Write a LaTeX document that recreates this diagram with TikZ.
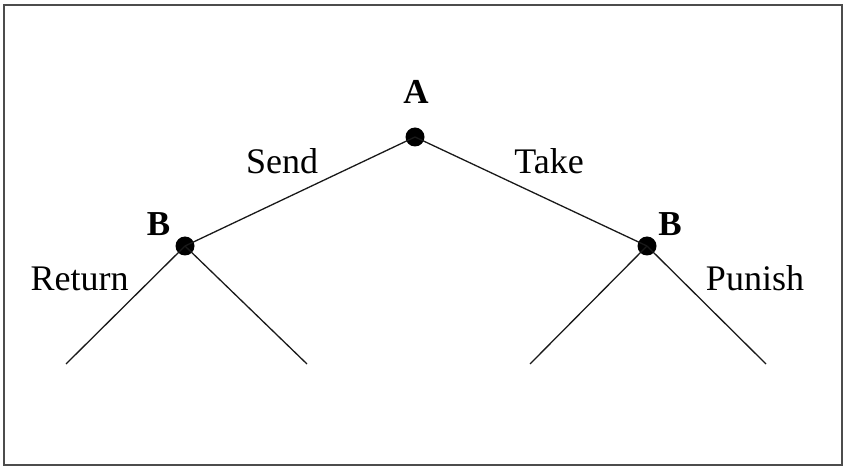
\documentclass[tikz,border=0pt]{standalone}
\usepackage{fontspec}
\setmainfont{Liberation Serif}
\begin{document}
\begin{tikzpicture}[x=1pt,y=-1pt,
  dotnode/.style={circle,fill=black,inner sep=0pt,minimum size=19pt},
  edge/.style={line width=1.3pt,black!90},
  lbl/.style={font=\fontsize{36}{42}\selectfont,inner sep=0pt,anchor=base},
  plbl/.style={font=\fontsize{35}{42}\selectfont\bfseries,inner sep=0pt,anchor=base}]
\useasboundingbox (0,0) rectangle (849,470);
\draw[line width=2pt,black!70] (4,5) rectangle (842,465);
\node[dotnode] (a) at (415,137) {};
\node[dotnode] (bl) at (185,246) {};
\node[dotnode] (br) at (647,246) {};
\coordinate (l1) at (66,364);
\coordinate (l2) at (307,364);
\coordinate (l3) at (530,364);
\coordinate (l4) at (766,364);
\draw[edge] (a.center) -- (bl.center);
\draw[edge] (a.center) -- (br.center);
\draw[edge] (bl.center) -- (l1);
\draw[edge] (bl.center) -- (l2);
\draw[edge] (br.center) -- (l3);
\draw[edge] (br.center) -- (l4);
\node[plbl] (ta) at (416,104) {A};
\node[plbl] (tbl) at (158.5,236) {B};
\node[plbl] (tbr) at (670,236) {B};
\node[lbl] (send) at (282,174) {Send};
\node[lbl] (take) at (549,174) {Take};
\node[lbl] (ret) at (79.5,291) {Return};
\node[lbl] (pun) at (755,291) {Punish};
\end{tikzpicture}
\end{document}
